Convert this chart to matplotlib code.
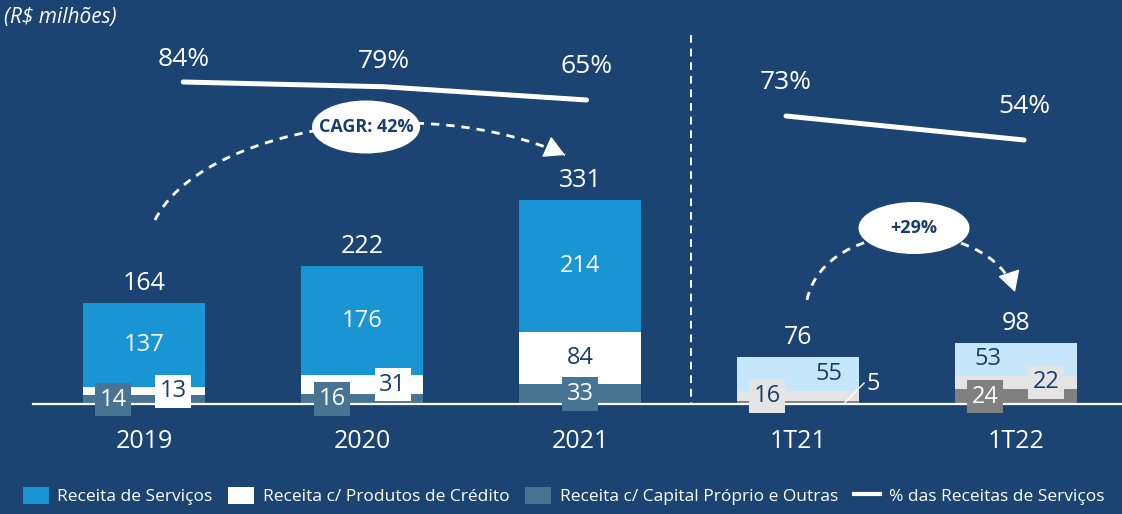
import numpy as np
import matplotlib.pyplot as plt
from matplotlib.patches import Patch, Ellipse, FancyArrowPatch, PathPatch
from matplotlib.path import Path
from matplotlib.lines import Line2D

plt.rcParams['font.family'] = ['Open Sans', 'DejaVu Sans']

periods = ["2019", "2020", "2021", "1T21", "1T22"]
servicos = [137, 176, 214, 55, 53]
credito = [13, 31, 84, 16, 22]
capital = [14, 16, 33, 5, 24]
totais = [164, 222, 331, 76, 98]
pct_anual = [84, 79, 65]
pct_trim = [73, 54]
legend_labels = ["Receita de Serviços", "Receita c/ Produtos de Crédito",
                 "Receita c/ Capital Próprio e Outras", "% das Receitas de Serviços"]

BG = "#1c4472"
NAVY = "#173f6d"
BLUE = "#1a95d4"
STEEL = "#477492"
LBLUE = "#c6e6fb"
LGRAY = "#e4e4e4"
DGRAY = "#808080"

W, H = 1122, 514
fig = plt.figure(figsize=(W / 100, H / 100), dpi=100, facecolor=BG)

# main axes fills the figure: 218 px per period, 0.617 px per R$ mi
ax = fig.add_axes([0, 0, 1, 1])
ax.set_facecolor("none")
ax.set_xlim(-144 / 218, (W - 144) / 218)
ax.set_ylim(-110 / 0.617, 404 / 0.617)
ax.axis("off")

x = np.arange(len(periods))
cap = np.array(capital)
cred = np.array(credito)
serv = np.array(servicos)
bw = 122 / 218

c_serv = [BLUE, BLUE, BLUE, LBLUE, LBLUE]
c_cred = ["white", "white", "white", LGRAY, LGRAY]
c_cap = [STEEL, STEEL, STEEL, DGRAY, DGRAY]

ax.bar(x, cap, bw, color=c_cap, zorder=2)
ax.bar(x, cred, bw, bottom=cap, color=c_cred, zorder=2)
ax.bar(x, serv, bw, bottom=cap + cred, color=c_serv, zorder=2)
ax.plot([33 / 218 - 144 / 218, 5], [0, 0], color="white", lw=1.6, zorder=3)

fs = 17
# totals
for xi, top, t in zip(x, cap + cred + serv, totais):
    ax.annotate(str(t), (xi, top), xytext=(0, 5), textcoords="offset points",
                ha="center", va="bottom", color="white", fontsize=18)
# period labels
for xi, p in zip(x, periods):
    ax.annotate(p, (xi, 0), xytext=(0, -27), textcoords="offset points",
                ha="center", va="center", color="white", fontsize=18)

# service labels
serv_dx = [0, 0, 0, 0.14, -0.13]
serv_col = ["white", "white", "white", NAVY, NAVY]
for i in range(5):
    ax.text(x[i] + serv_dx[i], cap[i] + cred[i] + serv[i] / 2, str(serv[i]),
            ha="center", va="center", color=serv_col[i], fontsize=fs, zorder=4)

# credit labels
cred_dx = [0.133, 0.142, 0, -0.142, 0.138]
cred_box = ["white", "white", None, LGRAY, LGRAY]
for i in range(5):
    bb = dict(boxstyle="square,pad=0.2", fc=cred_box[i], ec="none") if cred_box[i] else None
    ax.text(x[i] + cred_dx[i], cap[i] + cred[i] / 2, str(cred[i]), ha="center",
            va="center", color=NAVY, fontsize=fs, bbox=bb, zorder=4)

# capital labels
cap_dx = [-0.142, -0.138, 0, None, -0.142]
for i in range(5):
    if cap_dx[i] is None:
        ax.plot([x[i] + 0.216, x[i] + 0.303], [cap[i] / 2, 34], color="white", lw=1, zorder=4)
        ax.text(x[i] + 0.344, 32, str(cap[i]), ha="center", va="center",
                color="white", fontsize=fs, zorder=4)
        continue
    ax.text(x[i] + cap_dx[i], cap[i] / 2, str(cap[i]), ha="center", va="center",
            color="white", fontsize=fs, zorder=4,
            bbox=dict(boxstyle="square,pad=0.2", fc=c_cap[i], ec="none"))

# percentage lines
ax2 = ax.twinx()
ax2.set_ylim(84 - 432 / 0.947, 84 + 82 / 0.947)
ax2.axis("off")
xa = x[:3] + np.array([0.18, 0.1, 0.03])
ax2.plot(xa, pct_anual, color="white", lw=3.6, solid_capstyle="round")
for xi, v, off in zip(xa, pct_anual, [16, 18, 24]):
    ax2.annotate(f"{v}%", (xi, v), xytext=(0, off), textcoords="offset points",
                 ha="center", va="center", color="white", fontsize=19)

ax3 = ax.twinx()
ax3.set_ylim(73 - 398 / 1.263, 73 + 116 / 1.263)
ax3.axis("off")
xq = x[3:] + np.array([-0.055, 0.037])
ax3.plot(xq, pct_trim, color="white", lw=3.6, solid_capstyle="round")
for xi, v in zip(xq, pct_trim):
    ax3.annotate(f"{v}%", (xi, v), xytext=(0, 24), textcoords="offset points",
                 ha="center", va="center", color="white", fontsize=19)

# overlay in pixel coordinates for decorations
ov = fig.add_axes([0, 0, 1, 1])
ov.set_xlim(0, W)
ov.set_ylim(H, 0)
ov.axis("off")
ov.patch.set_alpha(0)

ov.plot([691, 691], [35, 404], color="white", lw=1.4, ls=(0, (4, 3)))
ov.text(4, 18, "(R$ milhões)", color="white", fontsize=15, style="italic", va="center")


def dashed_arc(pts, label, centre, size):
    path = Path(pts, [Path.MOVETO, Path.CURVE4, Path.CURVE4, Path.CURVE4])
    ov.add_patch(PathPatch(path, fill=False, ec="white", lw=2, ls=(0, (3, 2.5))))
    p3 = np.array(pts[3], float)
    c2 = np.array(pts[2], float)
    d = (p3 - c2) / np.hypot(*(p3 - c2))
    ov.add_patch(FancyArrowPatch(tuple(p3 - d * 14), tuple(p3),
                                 arrowstyle="-|>,head_length=1.0,head_width=0.55",
                                 mutation_scale=13, color="white", lw=1, shrinkA=0, shrinkB=0))
    ov.add_patch(Ellipse(centre, size[0], size[1], fc="white", ec="none"))
    ov.text(centre[0], centre[1], label, ha="center", va="center", color=NAVY,
            fontsize=13, fontweight="bold")


dashed_arc([(155, 220), (200, 130), (420, 90), (565, 155)], "CAGR: 42%", (366, 127), (108, 53))
dashed_arc([(807, 300), (825, 215), (990, 215), (1015, 292)], "+29%", (914, 228), (111, 52))

handles = [Patch(fc=BLUE), Patch(fc="white"), Patch(fc=STEEL),
           Line2D([], [], color="white", lw=3)]
ov.legend(handles, legend_labels, loc="lower left", bbox_to_anchor=(14 / W, 0), ncol=4,
          frameon=False, fontsize=12.5, labelcolor="white", handlelength=1.5,
          handleheight=1.2, handletextpad=0.5, columnspacing=0.9, borderaxespad=0.1)

fig.savefig("out.png", dpi=100, facecolor=BG)
